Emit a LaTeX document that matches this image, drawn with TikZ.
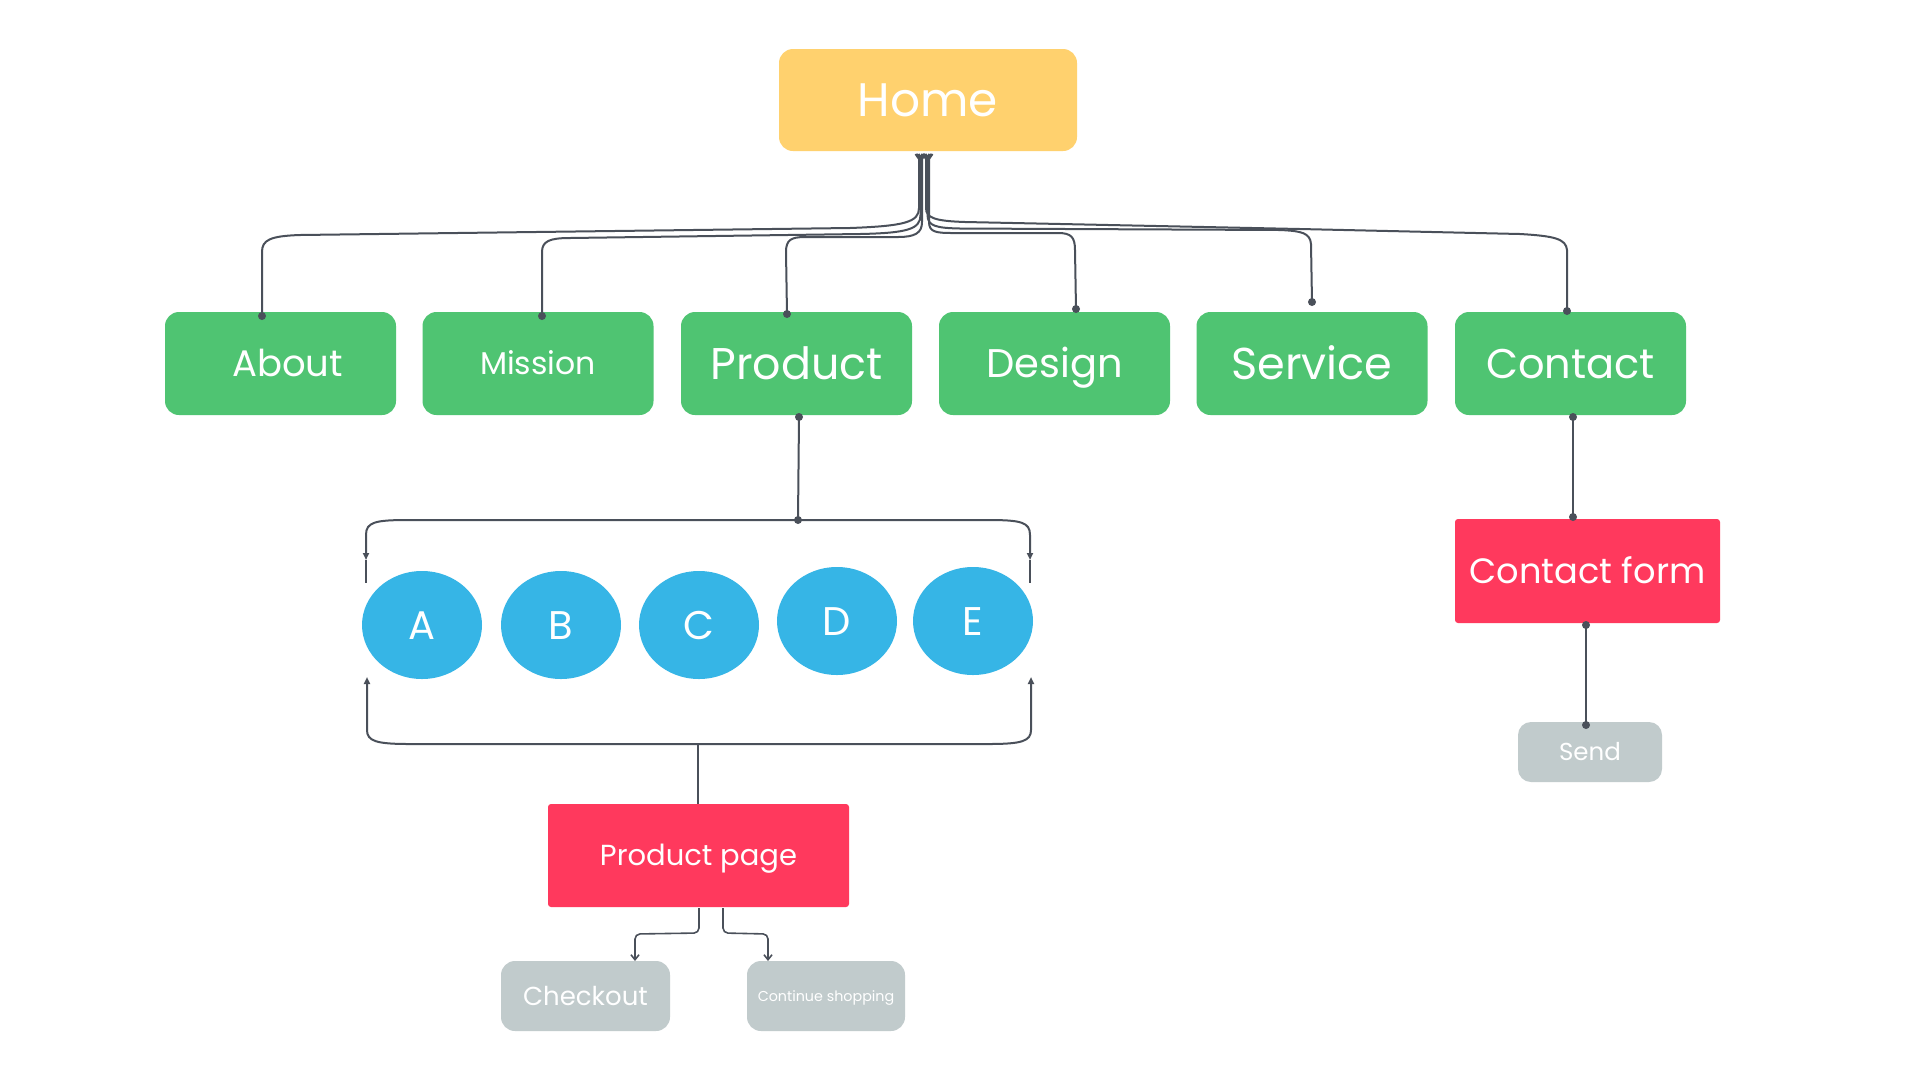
\documentclass[tikz,border=0pt]{standalone}
\usepackage{fontspec}
\setmainfont{Poppins}
\usetikzlibrary{shapes.geometric,arrows.meta}
\definecolor{cyellow}{HTML}{FFD16E}
\definecolor{cgreen}{HTML}{4FC472}
\definecolor{cred}{HTML}{FF395D}
\definecolor{cblue}{HTML}{36B5E6}
\definecolor{cgray}{HTML}{C1CBCC}
\definecolor{cline}{HTML}{4A505A}
\begin{document}
\begin{tikzpicture}[x=1pt,y=-1pt,
  box/.style={draw=none, text=white, inner sep=0pt, align=center},
  fz/.style 2 args={font=\fontsize{#1}{#1}\selectfont, text height=#2pt, text depth=0pt},
  gbox/.style={box, fill=cgreen, rounded corners=14pt, minimum width=231pt, minimum height=103pt},
  rbox/.style={box, fill=cred, rounded corners=3pt},
  graybox/.style={box, fill=cgray, rounded corners=14pt},
  oval/.style={box, ellipse, fill=cblue, minimum width=120pt, minimum height=108pt, fz={40}{28}},
  conn/.style={draw=cline, line width=2pt},
  thin/.style={draw=cline, line width=1.6pt},
  hstart/.style={{Straight Barb[reversed,length=5pt,width=7pt]}-},
  tri/.style={-{Triangle[length=7pt,width=6pt]}},
  barb/.style={-{Straight Barb[length=5pt,width=8pt]}},
  dot/.style={fill=cline}
]
\useasboundingbox (0,0) rectangle (1920,1080);
\fill[white] (0,0) rectangle (1920,1080);

% nodes
\node[box, fill=cyellow, rounded corners=14pt, minimum width=298pt, minimum height=102pt, fz={47}{33}] (home) at (928,100) {Home};

\node[gbox, fz={37}{26}] (about)   at (280.5,363.5) {\hspace*{14pt}About};
\node[gbox, fz={31.5}{22}] (mission) at (538,363.5) {Mission};
\node[gbox, fz={44.4}{31}] (product) at (796.5,363.5) {Product};
\node[gbox, fz={40}{28}] (design)  at (1054.5,363.5) {Design};
\node[gbox, fz={44.6}{31}] (service) at (1312,363.5) {Service};
\node[gbox, fz={41.5}{29}] (contact) at (1570.5,363.5) {Contact};

\node[oval] (A) at (422,625) {A};
\node[oval] (B) at (561,625) {B};
\node[oval] (C) at (699,625) {C};
\node[oval] (D) at (837,621) {D};
\node[oval] (E) at (973,621) {E};

\node[rbox, minimum width=301pt, minimum height=103pt, fz={29}{20}] (ppage) at (698.5,855.5) {Product page};
\node[graybox, minimum width=169pt, minimum height=70pt, fz={26}{18}] (checkout) at (585.5,996) {Checkout};
\node[graybox, minimum width=158pt, minimum height=70pt, fz={14.3}{10}] (cont) at (826,996) {Continue shopping};

\node[rbox, minimum width=265pt, minimum height=104pt, fz={35.2}{25}] (cform) at (1587.5,571) {Contact form};
\node[graybox, rounded corners=13pt, minimum width=144pt, minimum height=60pt, fz={24.5}{17}] (send) at (1590,752) {Send};

% connector end points
\coordinate (h1) at (919,153);
\coordinate (h2) at (920.5,153);
\coordinate (h3) at (922,153);
\coordinate (h4) at (929,153);
\coordinate (h5) at (927.5,153);
\coordinate (h6) at (926,153);
\coordinate (aboutin) at (262,316);
\coordinate (missionin) at (542,316);
\coordinate (prodin) at (787,314);
\coordinate (designin) at (1076,309);
\coordinate (servicein) at (1312,302);
\coordinate (contactin) at (1567,311);

% Home connectors
\draw[conn, hstart] (h1) -- (919,208) .. controls (919,222) and (905,226) .. (850,228) -- (300,235) .. controls (270,236) and (262,240) .. (262,252) -- (aboutin);
\draw[conn, hstart] (h2) -- (920.5,215) .. controls (920.5,229) and (908,233) .. (860,234) -- (570,238) .. controls (550,238) and (542,241) .. (542,252) -- (missionin);
\draw[conn, hstart] (h3) -- (922,222) .. controls (922,233) and (915,237) .. (898,237) -- (805,237) .. controls (791,237) and (786,240) .. (786,252) -- (prodin);
\draw[conn, hstart] (h4) -- (929,222) .. controls (929,232) and (936,233) .. (952,233) -- (1058,233) .. controls (1071,233) and (1075,237) .. (1075,250) -- (designin);
\draw[conn, hstart] (h5) -- (927.5,215) .. controls (927.5,226) and (936,228) .. (960,228.5) -- (1280,230) .. controls (1302,231) and (1310,233) .. (1311,244) -- (servicein);
\draw[conn, hstart] (h6) -- (926,208) .. controls (926,218) and (935,221) .. (965,222) -- (1300,229) -- (1520,234) .. controls (1555,236) and (1566,239) .. (1567,250) -- (contactin);
\foreach \p in {aboutin,missionin,prodin,designin,servicein,contactin}
  \fill[dot] (\p) circle (4pt);

% Product -> circles bracket
\coordinate (pout) at (799,417);
\coordinate (tb) at (798,520);
\coordinate (tbl) at (366,560);
\coordinate (tbr) at (1030,560);
\coordinate (tbl2) at (366,583);
\coordinate (tbr2) at (1030,583);
\draw[conn] (pout) -- (tb);
\fill[dot] (pout) circle (4pt);
\fill[dot] (tb) circle (4pt);
\draw[conn, tri] (tb) -- (409,520) .. controls (375,520) and (366,522) .. (366,535) -- (tbl);
\draw[conn] (tbl) -- (tbl2);
\draw[conn, tri] (tb) -- (987,520) .. controls (1021,520) and (1030,522) .. (1030,535) -- (tbr);
\draw[conn] (tbr) -- (tbr2);

% circles -> Product page bracket
\coordinate (bb) at (698,744);
\coordinate (bbl) at (367,677);
\coordinate (bbr) at (1031,677);
\draw[conn, tri] (bb) -- (409,744) .. controls (376,744) and (367,741) .. (367,730) -- (bbl);
\draw[conn, tri] (bb) -- (989,744) .. controls (1022,744) and (1031,741) .. (1031,730) -- (bbr);
\draw[conn] (bb) -- (ppage.north -| bb);

% Product page -> Checkout / Continue shopping
\coordinate (pp1) at (699,908);
\coordinate (pp2) at (723,908);
\coordinate (ck) at (635,961);
\coordinate (cs) at (768,961);
\draw[thin, rounded corners=5pt, barb] (pp1) -- (699,933) -- (635,934) -- (ck);
\draw[thin, rounded corners=5pt, barb] (pp2) -- (723,933) -- (768,934) -- (cs);

% Contact -> Contact form -> Send
\coordinate (co) at (1573,417);
\coordinate (cfi) at (1573,517);
\coordinate (cfo) at (1586,625);
\coordinate (si) at (1586,725);
\draw[conn] (co) -- (cfi);
\draw[conn] (cfo) -- (si);
\foreach \p in {co,cfi,cfo,si}
  \fill[dot] (\p) circle (4pt);
\end{tikzpicture}
\end{document}
